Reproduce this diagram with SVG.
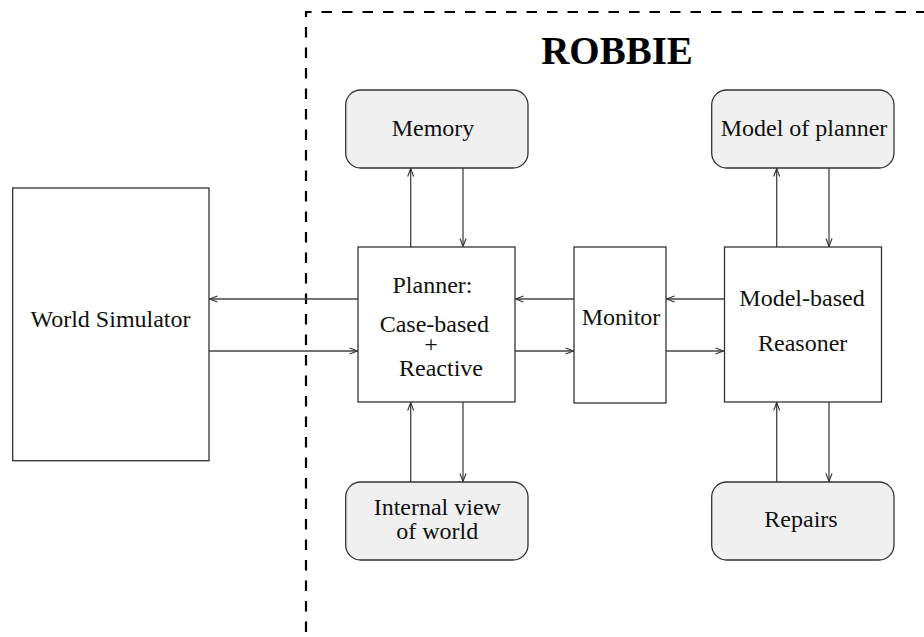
<svg xmlns="http://www.w3.org/2000/svg" width="924" height="637" viewBox="0 0 924 637">
<defs>
<marker id="ah" markerUnits="userSpaceOnUse" markerWidth="12" markerHeight="10" viewBox="-10 -5 12 10" refX="0" refY="0" orient="auto">
<path d="M-8,-3 L0,0 L-8,3" fill="none" stroke="#333" stroke-width="1.1"/>
</marker>
</defs>
<style>
.t{font-family:"Liberation Serif","Times New Roman",serif;font-size:24px;fill:#111;text-anchor:middle}
.rb{fill:#f0f0f0;stroke:#333;stroke-width:1.3}
.sq{fill:#fff;stroke:#333;stroke-width:1.3}
.c line{stroke:#444;stroke-width:1.3;marker-end:url(#ah)}
</style>
<rect width="924" height="637" fill="#fff"/>
<g id="boundary">
<path d="M306,632 L306,12 L924,12" fill="none" stroke="#000" stroke-width="2.2" stroke-dasharray="10.5 10"/>
<text x="617" y="64" style="font-family:'Liberation Serif','Times New Roman',serif;font-size:39px;font-weight:bold;text-anchor:middle" fill="#000">ROBBIE</text>
</g>
<g class="c" id="connectors">
<line x1="410.7" y1="247" x2="410.7" y2="168.5"/>
<line x1="463" y1="168" x2="463" y2="246.5"/>
<line x1="410.7" y1="482" x2="410.7" y2="402.5"/>
<line x1="463" y1="402" x2="463" y2="481.5"/>
<line x1="358" y1="299" x2="209.5" y2="299"/>
<line x1="209" y1="351" x2="357.5" y2="351"/>
<line x1="574" y1="299" x2="515.5" y2="299"/>
<line x1="515" y1="351" x2="573.5" y2="351"/>
<line x1="724" y1="299" x2="666.5" y2="299"/>
<line x1="666" y1="351" x2="723.5" y2="351"/>
<line x1="776.7" y1="247" x2="776.7" y2="168.5"/>
<line x1="829" y1="168" x2="829" y2="246.5"/>
<line x1="776.7" y1="482" x2="776.7" y2="402.5"/>
<line x1="829" y1="402" x2="829" y2="481.5"/>
</g>
<g id="world-simulator">
<rect class="sq" x="12.7" y="188" width="196.3" height="272.7"/>
<text class="t" x="110.5" y="327">World Simulator</text>
</g>
<g id="memory">
<rect class="rb" x="345.7" y="90" width="182.3" height="78" rx="15"/>
<text class="t" x="433" y="136">Memory</text>
</g>
<g id="planner">
<rect class="sq" x="358" y="247" width="157" height="155"/>
<text class="t" x="432.5" y="292.7">Planner:</text>
<text class="t" x="434.3" y="332">Case-based</text>
<text class="t" x="431" y="352">+</text>
<text class="t" x="441" y="375.7">Reactive</text>
</g>
<g id="internal-view">
<rect class="rb" x="345.7" y="482" width="182.3" height="78" rx="15"/>
<text class="t" x="437.3" y="515">Internal view</text>
<text class="t" x="437.3" y="539.3">of world</text>
</g>
<g id="monitor">
<rect class="sq" x="574" y="247" width="92" height="156"/>
<text class="t" x="621" y="325">Monitor</text>
</g>
<g id="reasoner">
<rect class="sq" x="724.5" y="247" width="157" height="155"/>
<text class="t" x="802" y="306">Model-based</text>
<text class="t" x="802.7" y="351">Reasoner</text>
</g>
<g id="model-of-planner">
<rect class="rb" x="711.7" y="90" width="182.3" height="78" rx="15"/>
<text class="t" x="804" y="136">Model of planner</text>
</g>
<g id="repairs">
<rect class="rb" x="711.7" y="482" width="182.3" height="78" rx="15"/>
<text class="t" x="801" y="527.3">Repairs</text>
</g>
</svg>
